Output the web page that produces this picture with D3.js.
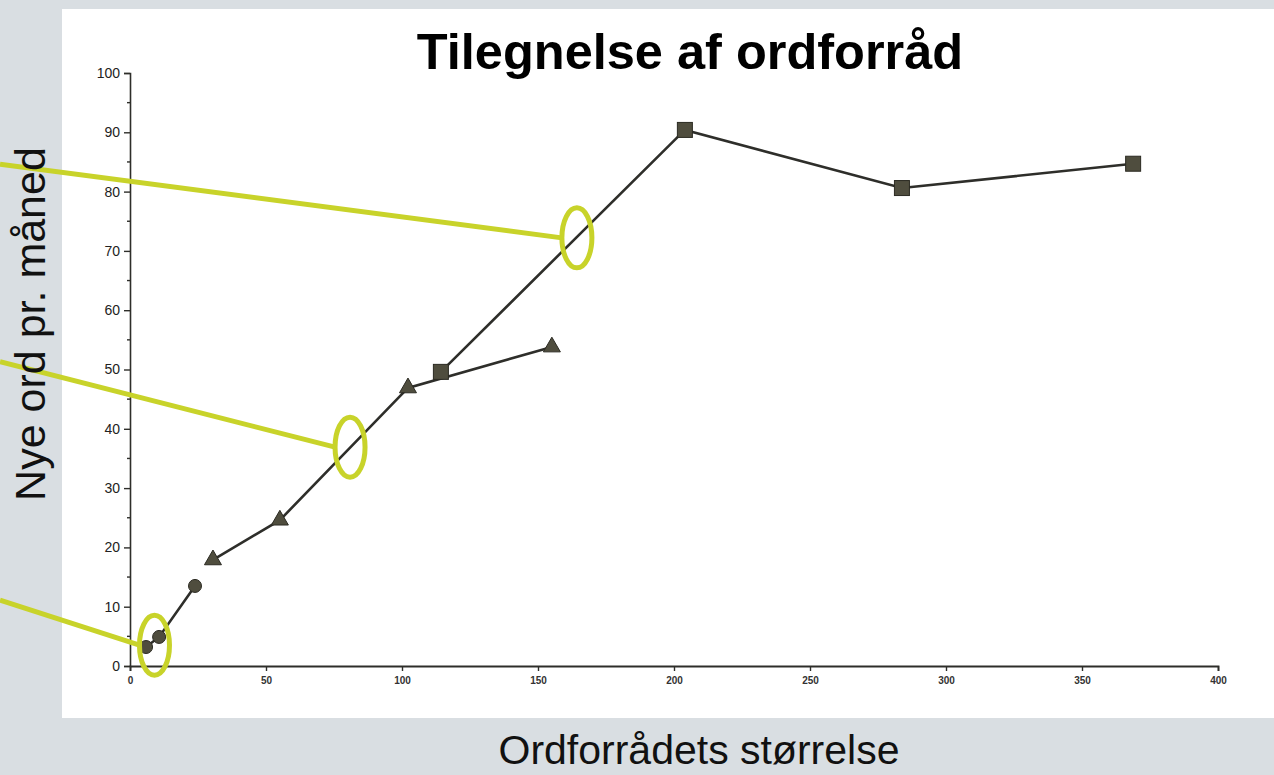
<!DOCTYPE html>
<html>
<head>
<meta charset="utf-8">
<script src="https://cdn.jsdelivr.net/npm/d3@7"></script>
<style>
  body { margin: 0; background: #d9dee2; }
  svg { display: block; }
</style>
</head>
<body>
<script>
// circles, triangles and squares: x = ordforrådets størrelse, y = nye ord pr. måned
const circleX = [5.9, 10.7, 23.9];
const circleY = [3.2, 4.9, 13.5];
const triX = [30.5, 55.1, 102.2, 155.1];
const triY = [17.9, 24.6, 46.9, 53.8];
const sqX = [114.3, 204, 283.8, 368.8];
const sqY = [49.6, 90.4, 80.6, 84.7];

const xTicks = [0, 50, 100, 150, 200, 250, 300, 350, 400];
const yTicks = [0, 10, 20, 30, 40, 50, 60, 70, 80, 90, 100];

// annotation ellipses (data units) and where their pointer lines start on the left edge
const markX = [164.3, 80.9, 9];
const markY = [72.2, 36.9, 3.5];
const pointerStartY = [84.6, 51.3, 11.1];

const w = 1274, h = 775;
const green = "#c8d32a";
const ink = "#2e2e2a";
const markFill = "#4f4d3e";

const x = d3.scaleLinear().domain([0, 400]).range([130, 1218]);
const y = d3.scaleLinear().domain([0, 100]).range([666, 73]);

const svg = d3.select("body").append("svg")
  .attr("width", w)
  .attr("height", h);

svg.append("rect")
  .attr("x", 62).attr("y", 9)
  .attr("width", w - 62).attr("height", 709)
  .attr("fill", "#fff");

// axes
const yAxis = d3.axisLeft(y).tickValues(yTicks).tickSize(6).tickPadding(4);
const gy = svg.append("g")
  .attr("transform", "translate(" + x(0) + ",0)")
  .call(yAxis);
gy.select(".domain").attr("stroke", ink).attr("stroke-width", 1.6);
gy.selectAll(".tick line").attr("stroke", ink).attr("stroke-width", 1.4);
gy.selectAll(".tick text")
  .attr("font-family", "Liberation Sans, Arial, sans-serif")
  .attr("font-size", 14)
  .attr("fill", "#222");

// minor ticks on y
svg.append("g").selectAll("line")
  .data(d3.range(5, 100, 10))
  .enter().append("line")
  .attr("x1", x(0) - 3).attr("x2", x(0))
  .attr("y1", d => y(d)).attr("y2", d => y(d))
  .attr("stroke", ink).attr("stroke-width", 1.4);

const xAxis = d3.axisBottom(x).tickValues(xTicks).tickSize(5).tickPadding(6);
const gx = svg.append("g")
  .attr("transform", "translate(0," + y(0) + ")")
  .call(xAxis);
gx.select(".domain").attr("stroke", ink).attr("stroke-width", 1.8);
gx.selectAll(".tick line").attr("stroke", ink).attr("stroke-width", 1.4);
gx.selectAll(".tick text")
  .attr("font-family", "Liberation Sans, Arial, sans-serif")
  .attr("font-size", 10)
  .attr("font-weight", "bold")
  .attr("fill", "#333");

// series lines
const line = d3.line().x(d => x(d[0])).y(d => y(d[1]));
const series = [
  d3.zip(circleX, circleY),
  d3.zip(triX, triY),
  d3.zip(sqX, sqY)
];
svg.append("g").selectAll("path")
  .data(series)
  .enter().append("path")
  .attr("d", line)
  .attr("fill", "none")
  .attr("stroke", ink)
  .attr("stroke-width", 2.6);

// markers
svg.append("g").selectAll("circle")
  .data(series[0])
  .enter().append("circle")
  .attr("cx", d => x(d[0]))
  .attr("cy", d => y(d[1]))
  .attr("r", 6.5)
  .attr("fill", markFill)
  .attr("stroke", "#2b2a22")
  .attr("stroke-width", 1);

svg.append("g").selectAll("path")
  .data(series[1])
  .enter().append("path")
  .attr("d", d3.symbol().type(d3.symbolTriangle).size(125))
  .attr("transform", d => "translate(" + x(d[0]) + "," + y(d[1]) + ")")
  .attr("fill", markFill)
  .attr("stroke", "#2b2a22")
  .attr("stroke-width", 1);

svg.append("g").selectAll("rect")
  .data(series[2])
  .enter().append("rect")
  .attr("x", d => x(d[0]) - 7.5)
  .attr("y", d => y(d[1]) - 7.5)
  .attr("width", 15)
  .attr("height", 15)
  .attr("fill", markFill)
  .attr("stroke", "#2b2a22")
  .attr("stroke-width", 1);

// green annotations
const marks = d3.zip(markX, markY, pointerStartY);
const rx = 15, ry = 30;
svg.append("g").selectAll("line")
  .data(marks)
  .enter().append("line")
  .attr("x1", 0)
  .attr("y1", d => y(d[2]))
  .attr("x2", d => x(d[0]) - rx)
  .attr("y2", d => y(d[1]))
  .attr("stroke", green)
  .attr("stroke-width", 5);

svg.append("g").selectAll("ellipse")
  .data(marks)
  .enter().append("ellipse")
  .attr("cx", d => x(d[0]))
  .attr("cy", d => y(d[1]))
  .attr("rx", rx)
  .attr("ry", ry)
  .attr("fill", "none")
  .attr("stroke", green)
  .attr("stroke-width", 5);

// titles
svg.append("text")
  .attr("x", 690).attr("y", 69)
  .attr("text-anchor", "middle")
  .attr("font-family", "Liberation Sans, Arial, sans-serif")
  .attr("font-weight", "bold")
  .attr("font-size", 50.5)
  .attr("fill", "#000")
  .text("Tilegnelse af ordforråd");

svg.append("text")
  .attr("transform", "translate(45,324) rotate(-90)")
  .attr("text-anchor", "middle")
  .attr("font-family", "Liberation Sans, Arial, sans-serif")
  .attr("font-size", 43)
  .attr("fill", "#111")
  .text("Nye ord pr. måned");

svg.append("text")
  .attr("x", 699).attr("y", 764)
  .attr("text-anchor", "middle")
  .attr("font-family", "Liberation Sans, Arial, sans-serif")
  .attr("font-size", 41)
  .attr("fill", "#111")
  .text("Ordforrådets størrelse");
</script>
</body>
</html>
